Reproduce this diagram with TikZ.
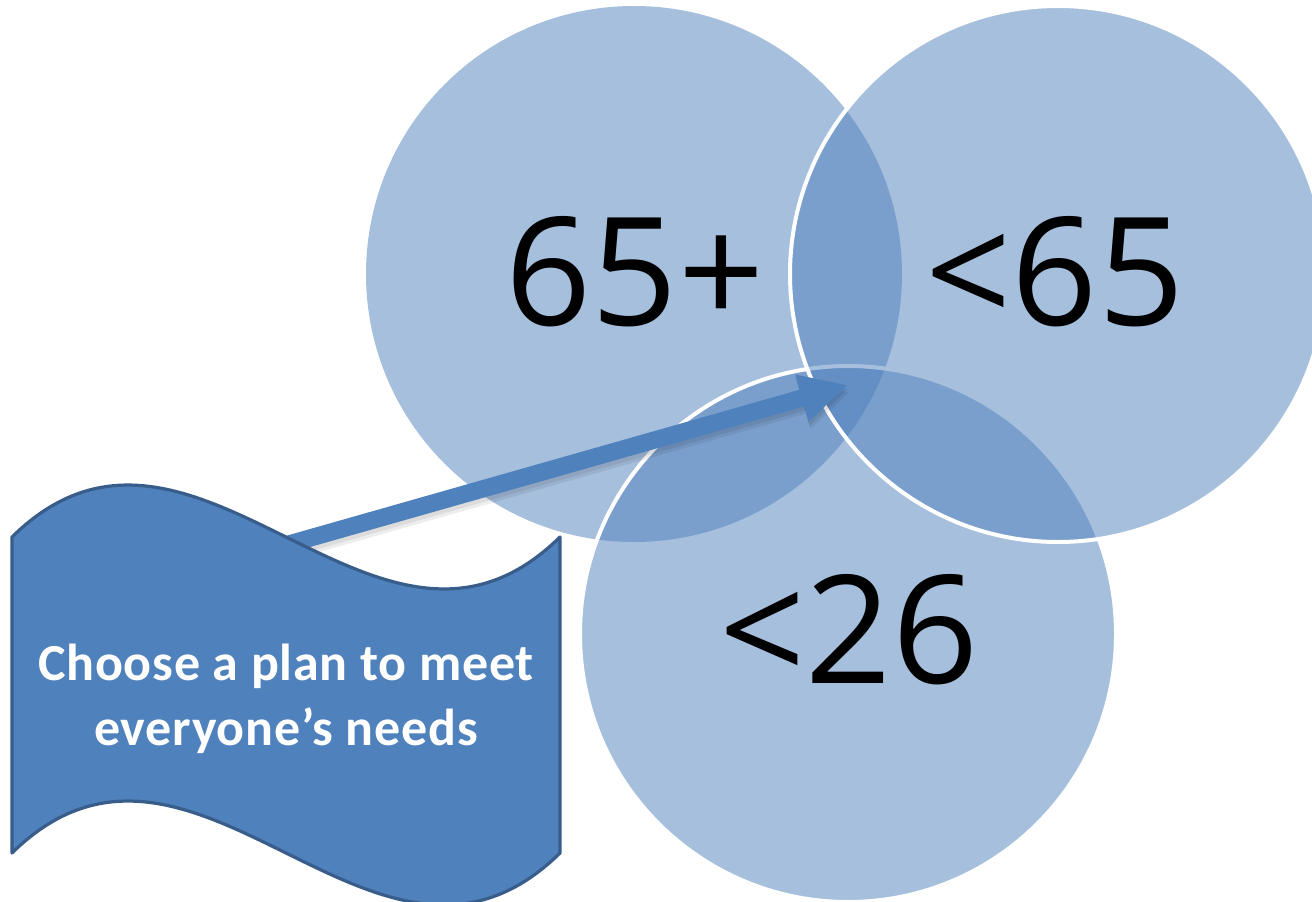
\documentclass[tikz,border=0pt]{standalone}
\usepackage{fontspec}
\setmainfont{Carlito}
\newfontfamily\digitfont{Open Sans}
\usetikzlibrary{arrows.meta}
\definecolor{accent}{HTML}{4F81BD}
\definecolor{accentdark}{HTML}{385D8A}
\begin{document}
\begin{tikzpicture}[x=0.75pt,y=-0.75pt,
  venn/.style={circle, minimum size=402pt, inner sep=0pt, fill=accent, fill opacity=0.5},
  vennline/.style={draw=white, line width=3pt},
  biglabel/.style={font=\digitfont\fontsize{113}{125}\selectfont, text=black, inner sep=0pt, anchor=base},
  banner/.style={fill=accent, draw=accentdark, line width=2.4pt, line join=round},
  bannertext/.style={font=\bfseries\fontsize{39}{48.75}\selectfont\addfontfeature{LetterSpace=1.5}, text=white, align=center, inner sep=0pt},
  pointer/.style={draw=accent, line width=13pt, -{Triangle[length=36pt,width=34pt]}},
  pointershadow/.style={draw=black, line width=13pt, draw opacity=0.07, fill opacity=0.07, -{Triangle[length=36pt,width=34pt]}}
]
\clip (0,0) rectangle (1312,902);
\fill[white] (0,0) rectangle (1312,902);
% Venn circles
\node[venn] (c1) at (634,274) {};
\node[venn, vennline] (c3) at (848,634) {};
\node[venn, vennline] (c2) at (1058,274) {};
% labels
\node[biglabel] (l1) at (635,325) {65+};
\node[biglabel] (l2) at (1055,325) {<65};
\node[biglabel] (l3) at (849,683) {<26};
% arrow
\coordinate (tail) at (282,546);
\coordinate (tip) at (848,385);
\coordinate (stail) at (283,550);
\coordinate (stip) at (849,389);
\coordinate (stail2) at (284,553);
\coordinate (stip2) at (850,392);
\draw[pointershadow] (stail2) -- (stip2);
\draw[pointershadow] (stail) -- (stip);
\draw[pointer] (tail) -- (tip);
% banner
\path[banner] (12,537) .. controls (195,357) and (377,717) .. (560,537)
  -- (560,853) .. controls (377,1033) and (195,673) .. (12,853) -- cycle;
\node[bannertext] (plan) at (286,699) {Choose a plan to meet\\everyone’s needs};
\end{tikzpicture}
\end{document}
